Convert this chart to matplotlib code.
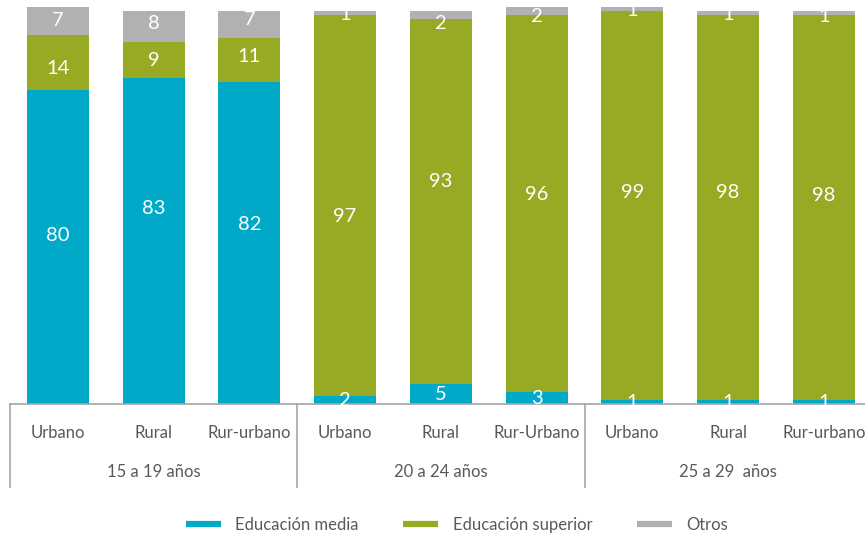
import numpy as np
import matplotlib
matplotlib.use("Agg")
from matplotlib import pyplot as plt
from matplotlib.lines import Line2D

plt.rcParams['font.family'] = ['Lato', 'DejaVu Sans']

# porcentajes por zona, agrupados por tramo de edad
zonas = ["Urbano", "Rural", "Rur-urbano", "Urbano", "Rural", "Rur-Urbano", "Urbano", "Rural", "Rur-urbano"]
tramos = ["15 a 19 años", "20 a 24 años", "25 a 29  años"]
media = [80, 83, 82, 2, 5, 3, 1, 1, 1]
superior = [14, 9, 11, 97, 93, 96, 99, 98, 98]
otros = [7, 8, 7, 1, 2, 2, 1, 1, 1]
series = ["Educación media", "Educación superior", "Otros"]

colores = ["#00A9C7", "#98A924", "#B1B1B3"]
gris = "#A6A6A6"
texto = "#595959"

# ajuste vertical de las etiquetas (px, positivo hacia arriba)
ajuste = [
    [10.8, 31.9, 18.8, 0, 0, 0, 0, 0, 0],
    [-6, 0, 4, -11.5, 20.5, 9.5, 13.5, 15.4, 12.4],
    [0, 3.6, 4.7, -2, -9, -6, -2, -2, -4],
]

fig = plt.figure(figsize=(8.65, 5.37), dpi=100)
ax = fig.add_axes([10/865, 133/537, 855/865, 397/537])

x = np.arange(len(zonas))
ancho = 0.647
base = np.zeros(len(zonas))
for k, vals in enumerate([media, superior, otros]):
    vals = np.array(vals, dtype=float)
    ax.bar(x, vals, ancho, bottom=base, color=colores[k], label=series[k], zorder=2)
    for i in range(len(x)):
        ax.annotate(str(int(vals[i])), (x[i], base[i] + vals[i]/2),
                    xytext=(0, ajuste[k][i]*0.72), textcoords="offset points",
                    ha="center", va="center", color="white", fontsize=14.5,
                    annotation_clip=False, zorder=3)
    base = base + vals

ax.set_xlim(-0.5, 855/95.75 - 0.5)
ax.set_ylim(0, 101)
ax.set_xticks([])
ax.set_yticks([])
for s in ["top", "right", "left"]:
    ax.spines[s].set_visible(False)
ax.spines["bottom"].set_color(gris)
ax.spines["bottom"].set_linewidth(1.2)

trans = ax.get_xaxis_transform()
for sep in [-0.5, 2.5, 5.5]:
    ax.plot([sep, sep], [0, -83/397], color=gris, lw=1.2, transform=trans, clip_on=False)

for i, z in enumerate(zonas):
    ax.text(i, -29/397, z, transform=trans, ha="center", va="center", fontsize=12, color=texto)
for g, t in enumerate(tramos):
    ax.text(3*g + 1, -68/397, t, transform=trans, ha="center", va="center", fontsize=12, color=texto)

handles = [Line2D([0], [0], color=c, lw=4.5, solid_capstyle="butt") for c in colores]
fig.legend(handles, series, loc="center", bbox_to_anchor=(457/865, 1 - 525/537), ncol=3,
           frameon=False, fontsize=12, handlelength=2.1, handletextpad=0.85,
           columnspacing=2.7, labelcolor=texto)

fig.savefig("out.png", dpi=100)
